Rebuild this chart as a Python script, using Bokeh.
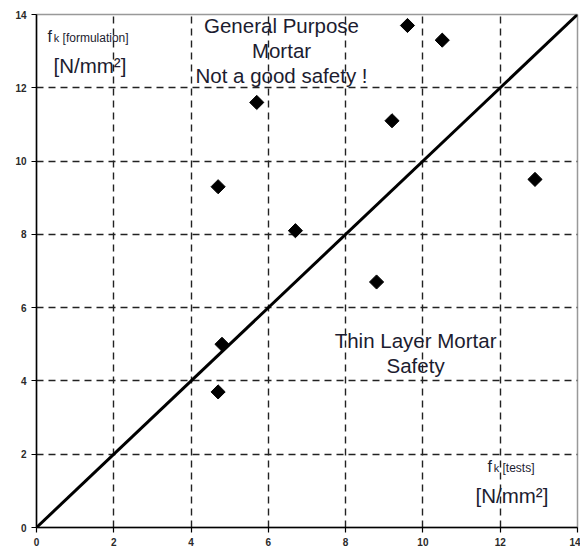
import math
from bokeh.plotting import figure
from bokeh.models import Range1d, FixedTicker, Label, ColumnDataSource
from bokeh.embed import file_html
from bokeh.resources import INLINE

# Characteristic strength: tests (x) versus formulation (y), N/mm²
fk_tests = [4.7, 5.7, 9.6, 10.5, 9.2, 12.9, 6.7, 8.8, 4.8, 4.7]
fk_formulation = [9.3, 11.6, 13.7, 13.3, 11.1, 9.5, 8.1, 6.7, 5.0, 3.7]

# Line of equality
equal_x = [0, 14]
equal_y = [0, 14]

tick_values = [0, 2, 4, 6, 8, 10, 12, 14]
grid_values = [2, 4, 6, 8, 10, 12]

upper_note = ["General Purpose", "Mortar", "Not a good safety !"]
lower_note = ["Thin Layer Mortar", "Safety"]

FONT = "Liberation Sans"
TEXT_COLOR = "#1c1c30"
LIFT = 0.19  # baseline correction for labels, in y units

p = figure(width=580, height=551, output_backend="svg", toolbar_location=None,
           x_range=Range1d(0, 14), y_range=Range1d(0, 14),
           min_border_left=36, min_border_right=3, min_border_top=14,
           min_border_bottom=24)
p.background_fill_color = "white"
p.border_fill_color = "white"
p.outline_line_color = "#999999"
p.outline_line_width = 1.5

for ax in (p.xaxis[0], p.yaxis[0]):
    ax.ticker = FixedTicker(ticks=tick_values)
    ax.axis_line_color = "black"
    ax.axis_line_width = 1.5
    ax.major_tick_line_color = "black"
    ax.major_tick_line_width = 1.2
    ax.major_tick_out = 5
    ax.major_tick_in = 0
    ax.minor_tick_line_color = None
    ax.major_label_text_font = FONT
    ax.major_label_text_font_size = "10px"
    ax.major_label_text_font_style = "bold"
    ax.major_label_text_color = "#2a2a2a"
    ax.major_label_standoff = 5

for g in (p.xgrid[0], p.ygrid[0]):
    g.ticker = FixedTicker(ticks=grid_values)
    g.grid_line_color = "#222222"
    g.grid_line_width = 1.4
    g.grid_line_dash = "7 5"

p.line(equal_x, equal_y, line_color="black", line_width=3)

src = ColumnDataSource(dict(x=fk_tests, y=fk_formulation))
p.scatter("x", "y", source=src, marker="square", size=10, angle=math.pi / 4,
          fill_color="black", line_color="black")

# Region notes
upper_y = [13.51, 12.83, 12.15]
for txt, yy in zip(upper_note, upper_y):
    p.add_layout(Label(x=6.34, y=yy + LIFT, text=txt, text_align="center",
                       text_baseline="alphabetic", text_font=FONT,
                       text_font_size="20.5px", text_color=TEXT_COLOR))
lower_y = [4.91, 4.24]
for txt, yy in zip(lower_note, lower_y):
    p.add_layout(Label(x=9.81, y=yy + LIFT, text=txt, text_align="center",
                       text_baseline="alphabetic", text_font=FONT,
                       text_font_size="20.5px", text_color=TEXT_COLOR))


def axis_title(x0, y0, sub, x_unit, y_unit):
    p.add_layout(Label(x=x0, y=y0 + LIFT, text="f", text_font=FONT,
                       text_font_size="16px", text_color=TEXT_COLOR,
                       text_baseline="alphabetic"))
    p.add_layout(Label(x=x0 + 0.16, y=y0 - 0.03 + LIFT, text="k", text_font=FONT,
                       text_font_size="11px", text_color=TEXT_COLOR,
                       text_baseline="alphabetic"))
    p.add_layout(Label(x=x0 + 0.39, y=y0 - 0.03 + LIFT, text=sub, text_font=FONT,
                       text_font_size="12px", text_color=TEXT_COLOR,
                       text_baseline="alphabetic"))
    p.add_layout(Label(x=x_unit, y=y_unit + LIFT, text="[N/mm²]", text_font=FONT,
                       text_font_size="20.5px", text_color=TEXT_COLOR,
                       text_baseline="alphabetic"))


axis_title(0.285, 13.21, "[formulation]", 0.44, 12.42)
axis_title(11.67, 1.47, "[tests]", 11.36, 0.68)

open("out.html", "w").write(file_html(p, INLINE))
